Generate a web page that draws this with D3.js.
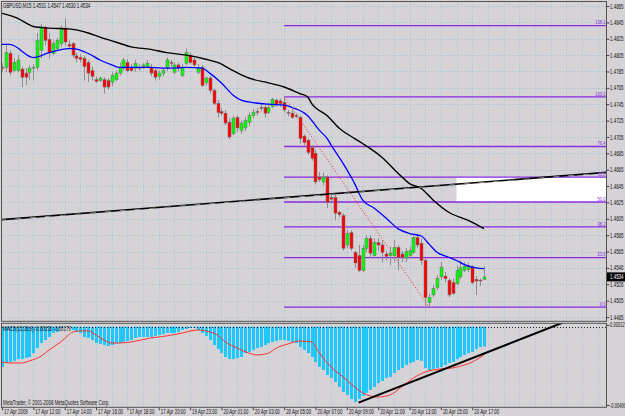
<!DOCTYPE html>
<html><head><meta charset="utf-8">
<script src="https://cdn.jsdelivr.net/npm/d3@7"></script>
<style>body{margin:0;background:#D6D3D6;}svg{display:block}</style>
</head><body><svg id="c" width="625" height="416"></svg>
<script>
// ---------- DATA ----------
const opens = [1.4790,1.4790,1.4807,1.4786,1.4786,1.4788,1.4783,1.4784,1.4789,1.4790,1.4811,1.4839,1.4824,1.4807,1.4813,1.4819,1.4838,1.4818,1.4819,1.4804,1.4802,1.4801,1.4796,1.4786,1.4775,1.4774,1.4775,1.4774,1.4772,1.4775,1.4783,1.4789,1.4796,1.4790,1.4789,1.4790,1.4791,1.4791,1.4790,1.4786,1.4779,1.4783,1.4790,1.4796,1.4784,1.4793,1.4780,1.4795,1.4805,1.4799,1.4784,1.4790,1.4771,1.4777,1.4762,1.4746,1.4736,1.4734,1.4723,1.4709,1.4729,1.4713,1.4716,1.4723,1.4731,1.4736,1.4741,1.4741,1.4735,1.4742,1.4750,1.4749,1.4747,1.4735,1.4734,1.4731,1.4729,1.4706,1.4701,1.4692,1.4685,1.4656,1.4650,1.4656,1.4631,1.4631,1.4613,1.4609,1.4573,1.4588,1.4564,1.4560,1.4542,1.4569,1.4581,1.4560,1.4576,1.4573,1.4562,1.4560,1.4560,1.4570,1.4562,1.4557,1.4560,1.4564,1.4582,1.4575,1.4554,1.4503,1.4512,1.4521,1.4534,1.4535,1.4530,1.4527,1.4526,1.4534,1.4542,1.4543,1.4546,1.4531,1.4530,1.4531];
const highs = [1.4795,1.4817,1.4811,1.4801,1.4805,1.4791,1.4789,1.4793,1.4794,1.4832,1.4843,1.4841,1.4832,1.4823,1.4826,1.4841,1.4850,1.4823,1.4821,1.4808,1.4806,1.4804,1.4799,1.4791,1.4779,1.4779,1.4778,1.4777,1.4784,1.4786,1.4796,1.4802,1.4800,1.4794,1.4799,1.4794,1.4795,1.4799,1.4794,1.4789,1.4786,1.4789,1.4802,1.4799,1.4796,1.4796,1.4794,1.4813,1.4808,1.4802,1.4794,1.4793,1.4779,1.4779,1.4764,1.4750,1.4740,1.4738,1.4728,1.4731,1.4731,1.4725,1.4729,1.4735,1.4739,1.4740,1.4745,1.4745,1.4746,1.4753,1.4752,1.4752,1.4754,1.4738,1.4738,1.4734,1.4731,1.4708,1.4703,1.4695,1.4689,1.4662,1.4661,1.4658,1.4634,1.4634,1.4615,1.4612,1.4591,1.4591,1.4566,1.4573,1.4573,1.4585,1.4585,1.4581,1.4581,1.4579,1.4566,1.4571,1.4579,1.4573,1.4566,1.4569,1.4571,1.4586,1.4586,1.4581,1.4557,1.4513,1.4524,1.4536,1.4552,1.4540,1.4532,1.4532,1.4548,1.4554,1.4552,1.4551,1.4548,1.4535,1.4532,1.4547];
const lows = [1.4784,1.4784,1.4780,1.4784,1.4784,1.4766,1.4768,1.4774,1.4774,1.4786,1.4801,1.4817,1.4801,1.4805,1.4811,1.4815,1.4817,1.4813,1.4802,1.4796,1.4796,1.4774,1.4772,1.4774,1.4771,1.4772,1.4758,1.4763,1.4767,1.4773,1.4780,1.4786,1.4784,1.4784,1.4785,1.4786,1.4788,1.4789,1.4779,1.4774,1.4775,1.4779,1.4786,1.4791,1.4782,1.4785,1.4778,1.4793,1.4794,1.4790,1.4782,1.4766,1.4768,1.4758,1.4744,1.4729,1.4731,1.4719,1.4702,1.4707,1.4711,1.4709,1.4712,1.4718,1.4728,1.4731,1.4736,1.4729,1.4733,1.4740,1.4742,1.4742,1.4735,1.4730,1.4727,1.4728,1.4697,1.4695,1.4683,1.4676,1.4647,1.4650,1.4646,1.4618,1.4624,1.4603,1.4607,1.4566,1.4569,1.4566,1.4545,1.4540,1.4540,1.4564,1.4557,1.4557,1.4566,1.4552,1.4554,1.4548,1.4552,1.4542,1.4552,1.4552,1.4557,1.4562,1.4569,1.4548,1.4498,1.4497,1.4509,1.4518,1.4530,1.4527,1.4509,1.4512,1.4524,1.4531,1.4540,1.4540,1.4525,1.4512,1.4523,1.4530];
const closes = [1.4789,1.4808,1.4784,1.4796,1.4799,1.4778,1.4778,1.4789,1.4790,1.4823,1.4839,1.4823,1.4808,1.4819,1.4823,1.4838,1.4821,1.4816,1.4805,1.4801,1.4800,1.4791,1.4783,1.4779,1.4773,1.4777,1.4766,1.4766,1.4780,1.4783,1.4790,1.4799,1.4786,1.4786,1.4795,1.4789,1.4793,1.4795,1.4783,1.4778,1.4783,1.4786,1.4799,1.4795,1.4793,1.4789,1.4790,1.4808,1.4796,1.4793,1.4790,1.4768,1.4777,1.4762,1.4746,1.4735,1.4734,1.4722,1.4705,1.4728,1.4716,1.4722,1.4725,1.4731,1.4735,1.4735,1.4740,1.4734,1.4741,1.4751,1.4745,1.4746,1.4738,1.4734,1.4729,1.4730,1.4703,1.4698,1.4686,1.4679,1.4650,1.4653,1.4656,1.4625,1.4629,1.4612,1.4610,1.4569,1.4587,1.4569,1.4551,1.4542,1.4569,1.4581,1.4563,1.4576,1.4573,1.4564,1.4559,1.4563,1.4570,1.4558,1.4558,1.4565,1.4566,1.4582,1.4573,1.4554,1.4509,1.4509,1.4520,1.4532,1.4546,1.4532,1.4512,1.4514,1.4542,1.4545,1.4547,1.4547,1.4527,1.4529,1.4529,1.4534];

// moving averages (bar index, price)
const maFastBars = [0,2,8,12,17,18,22,25,28,30,38,42,47,51,53,56,59,61,64,68,72,74,78,81,83,84,87,90,92,95,98,101,104,107,109,111,114,116,118,121,123];
const maFastVals = [1.4818,1.4818,1.4802,1.4808,1.4813,1.4813,1.4807,1.4799,1.4793,1.4790,1.4790,1.4789,1.4790,1.4789,1.4783,1.4771,1.4756,1.4750,1.4747,1.4745,1.4744,1.4741,1.4731,1.4713,1.4703,1.4695,1.4673,1.4648,1.4628,1.4618,1.4606,1.4593,1.4587,1.4584,1.4574,1.4564,1.4558,1.4554,1.4549,1.4545,1.4544];
const maSlowBars = [0,4,8,12,17,22,25,29,33,38,42,47,52,55,59,63,68,72,76,78,79,83,86,90,92,97,101,104,107,110,114,119,123];
const maSlowVals = [1.4856,1.4850,1.4840,1.4838,1.4837,1.4832,1.4827,1.4821,1.4815,1.4812,1.4808,1.4805,1.4800,1.4796,1.4786,1.4777,1.4771,1.4766,1.4758,1.4754,1.4746,1.4731,1.4716,1.4703,1.4697,1.4680,1.4661,1.4648,1.4642,1.4628,1.4613,1.4603,1.4593];

// MACD(12,26,9)
const macdHist = [-0.00257,-0.00231,-0.00225,-0.00218,-0.00206,-0.00206,-0.00199,-0.00193,-0.00168,-0.00136,-0.00104,-0.00085,-0.00066,-0.00040,-0.00034,-0.00008,-0.00002,-0.00002,-0.00021,-0.00034,-0.00040,-0.00066,-0.00072,-0.00085,-0.00104,-0.00110,-0.00117,-0.00123,-0.00117,-0.00104,-0.00104,-0.00097,-0.00091,-0.00085,-0.00072,-0.00066,-0.00066,-0.00066,-0.00066,-0.00059,-0.00053,-0.00047,-0.00040,-0.00040,-0.00040,-0.00034,-0.00021,-0.00015,-0.00008,-0.00008,-0.00021,-0.00040,-0.00059,-0.00085,-0.00117,-0.00142,-0.00168,-0.00193,-0.00206,-0.00206,-0.00199,-0.00193,-0.00168,-0.00161,-0.00148,-0.00136,-0.00129,-0.00117,-0.00104,-0.00097,-0.00091,-0.00085,-0.00085,-0.00091,-0.00097,-0.00104,-0.00129,-0.00148,-0.00168,-0.00193,-0.00225,-0.00257,-0.00276,-0.00308,-0.00327,-0.00352,-0.00384,-0.00416,-0.00435,-0.00461,-0.00480,-0.00461,-0.00441,-0.00422,-0.00403,-0.00384,-0.00359,-0.00346,-0.00327,-0.00320,-0.00295,-0.00276,-0.00263,-0.00244,-0.00231,-0.00225,-0.00212,-0.00218,-0.00263,-0.00276,-0.00269,-0.00263,-0.00257,-0.00244,-0.00231,-0.00225,-0.00206,-0.00193,-0.00180,-0.00168,-0.00161,-0.00142,-0.00129,-0.00126];
const signalBars = [0,2,5,7,10,12,15,17,18,20,22,24,26,28,30,33,38,42,46,50,52,55,57,60,63,65,68,70,73,76,79,81,84,87,90,92,94,96,99,102,105,108,112,115,118,120,123];
const signalVals = [-0.00225,-0.00231,-0.00231,-0.00218,-0.00187,-0.00148,-0.00097,-0.00053,-0.00034,-0.00027,-0.00027,-0.00053,-0.00085,-0.00104,-0.00104,-0.00097,-0.00072,-0.00059,-0.00040,-0.00021,-0.00027,-0.00053,-0.00097,-0.00136,-0.00168,-0.00180,-0.00168,-0.00136,-0.00110,-0.00091,-0.00097,-0.00168,-0.00257,-0.00320,-0.00384,-0.00422,-0.00441,-0.00448,-0.00435,-0.00384,-0.00327,-0.00289,-0.00269,-0.00263,-0.00244,-0.00225,-0.00179];

// drawn objects
const fibRatios = [0, 23.6, 38.2, 50.0, 61.8, 76.4, 100.0, 133.9];
const fibLabels = ["0.0","23.6","38.2","50.0","61.8","76.4","100.0","138.2"];
const fibHighBar = 72, fibHigh = 1.4754, fibLowBar = 109, fibLow = 1.4497;
const zoneBars = [116, 155], zonePrices = [1.4656, 1.46255];
const trendBars = [0, 123], trendPrices = [1.4604, 1.4650];
const macdTrendBars = [91, 143], macdTrendVals = [-0.00484, 0.00025];

// axis labels
const priceTicks = [1.4865,1.4845,1.4825,1.4805,1.4785,1.4765,1.4745,1.4725,1.4705,1.4685,1.4665,1.4645,1.4625,1.4605,1.4585,1.4565,1.4545,1.4525,1.4505,1.4485];
const priceTickLabels = ["1.4865","1.4845","1.4825","1.4805","1.4785","1.4765","1.4745","1.4725","1.4705","1.4685","1.4665","1.4645","1.4625","1.4605","1.4585","1.4565","1.4546","1.4526","1.4505","1.4485"];
const timeTickBars = [0,8,16,24,32,40,48,56,64,72,80,88,96,104,112,120];
const timeTickLabels = ["17 Apr 2009","17 Apr 12:00","17 Apr 14:00","17 Apr 16:00","17 Apr 18:00","17 Apr 20:00","19 Apr 23:00","20 Apr 01:00","20 Apr 03:00","20 Apr 05:00","20 Apr 07:00","20 Apr 09:00","20 Apr 11:00","20 Apr 13:00","20 Apr 15:00","20 Apr 17:00"];
const macdTicks = [0.00012, -0.00499];
const macdTickLabels = ["0.00012", "-0.00499"];
const headerText = "GBPUSD,M15  1.4531 1.4547 1.4530 1.4534";
const macdText = "MACD(12,26,9) -0.00126 -0.00179";
const copyText = "MetaTrader, \u00A9 2001-2008 MetaQuotes Software Corp.";

// ---------- DRAW ----------
const BG = "#D6D3D6", GRID = "#9ec2dc", FIB = "#8a2be2";
const FONT = "'Liberation Sans', Arial, sans-serif";
const SX = 0.68;           // horizontal squeeze of all texts (picture is condensed)
const FS = 6.5;
const L = 2, R = 606.5, mainTop = 1.5, mainBot = 321.3, subTop = 323.3, subBot = 407.3;
const svg = d3.select("#c");
svg.append("rect").attr("width",625).attr("height",416).attr("fill",BG);

const x = d3.scaleLinear().domain([0,123]).range([2,484]);
const y = d3.scaleLinear().domain([1.4485,1.4865]).range([317,6]);
const ym = d3.scaleLinear().domain([-0.00499,0]).range([405,326.7]);

function label(parent, tx, ty, str, opts={}) {
  return parent.append("text")
    .attr("transform",`translate(${tx},${ty}) scale(${SX},1)`)
    .attr("font-family",FONT).attr("font-size",opts.size||FS)
    .attr("fill",opts.fill||"#111").attr("text-anchor",opts.anchor||"start").text(str);
}

const defs = svg.append("defs");
defs.append("clipPath").attr("id","cm").append("rect").attr("x",L).attr("y",mainTop).attr("width",R-L).attr("height",mainBot-mainTop);
defs.append("clipPath").attr("id","cs").append("rect").attr("x",L).attr("y",subTop).attr("width",R-L).attr("height",subBot-subTop);

const gm = svg.append("g").attr("clip-path","url(#cm)");
const gs = svg.append("g").attr("clip-path","url(#cs)");

// grid
const gridBars = d3.range(4, 160, 4).filter(b => x(b) < R);
gm.selectAll(".vg").data(gridBars).join("line")
  .attr("x1",b=>Math.round(x(b))+0.5).attr("x2",b=>Math.round(x(b))+0.5).attr("y1",mainTop).attr("y2",mainBot)
  .attr("stroke",GRID).attr("stroke-dasharray","1,2");
gm.selectAll(".hg").data(priceTicks).join("line")
  .attr("x1",L).attr("x2",R).attr("y1",d=>Math.round(y(d))+0.5).attr("y2",d=>Math.round(y(d))+0.5)
  .attr("stroke",GRID).attr("stroke-dasharray","1,2");
gs.selectAll(".vg").data(gridBars).join("line")
  .attr("x1",b=>Math.round(x(b))+0.5).attr("x2",b=>Math.round(x(b))+0.5).attr("y1",subTop).attr("y2",subBot)
  .attr("stroke",GRID).attr("stroke-dasharray","1,2");

// zone rectangle
gm.append("rect").attr("x",x(zoneBars[0])).attr("y",y(zonePrices[0]))
  .attr("width",x(zoneBars[1])-x(zoneBars[0])).attr("height",y(zonePrices[1])-y(zonePrices[0])).attr("fill","#ffffff");

// fibonacci
const fibRange = fibHigh - fibLow;
fibRatios.forEach((r,i) => {
  const p = fibLow + fibRange*r/100;
  gm.append("line").attr("x1",x(fibHighBar)).attr("x2",R).attr("y1",y(p)).attr("y2",y(p))
    .attr("stroke",FIB).attr("stroke-width",1.3);
  label(svg, R-1, y(p)-1.3, fibLabels[i], {anchor:"end", fill:FIB, size:6});
});
gm.append("line").attr("x1",x(fibHighBar)).attr("y1",y(fibHigh)).attr("x2",x(fibLowBar)).attr("y2",y(fibLow))
  .attr("stroke","#ff2020").attr("stroke-width",1).attr("stroke-dasharray","1,2");

// candles
const bars = d3.range(opens.length).map(i => ({i,o:opens[i],h:highs[i],l:lows[i],c:closes[i]}));
const cg = gm.append("g");
cg.selectAll(".w").data(bars).join("line")
  .attr("x1",d=>Math.round(x(d.i))+0.5).attr("x2",d=>Math.round(x(d.i))+0.5)
  .attr("y1",d=>y(d.h)).attr("y2",d=>y(d.l)).attr("stroke","#8c8c8c").attr("stroke-width",1);
cg.selectAll(".b").data(bars.filter(d=>Math.abs(d.o-d.c)>=0.00006)).join("rect")
  .attr("x",d=>Math.round(x(d.i))-1).attr("width",3)
  .attr("y",d=>y(Math.max(d.o,d.c))).attr("height",d=>Math.abs(y(d.o)-y(d.c)))
  .attr("fill",d=>d.c>d.o?"#00ff00":"#ff0000").attr("stroke","#6e6e6e").attr("stroke-width",0.5);
cg.selectAll(".d").data(bars.filter(d=>Math.abs(d.o-d.c)<0.00006)).join("line")
  .attr("x1",d=>Math.round(x(d.i))-1).attr("x2",d=>Math.round(x(d.i))+2)
  .attr("y1",d=>y(d.c)).attr("y2",d=>y(d.c)).attr("stroke","#555").attr("stroke-width",1);

// moving averages
const lineP = d3.line().x(d=>x(d[0])).y(d=>y(d[1])).curve(d3.curveMonotoneX);
gm.append("path").attr("d",lineP(maSlowBars.map((b,i)=>[b,maSlowVals[i]]))).attr("fill","none").attr("stroke","#000").attr("stroke-width",1.4);
gm.append("path").attr("d",lineP(maFastBars.map((b,i)=>[b,maFastVals[i]]))).attr("fill","none").attr("stroke","#0000ff").attr("stroke-width",1.3);

// trend line (extended both ways)
const slope = (trendPrices[1]-trendPrices[0])/(trendBars[1]-trendBars[0]);
const bL = x.invert(0), bR = x.invert(R);
const tp = b => trendPrices[0] + slope*(b-trendBars[0]);
gm.append("line").attr("x1",0).attr("y1",y(tp(bL))).attr("x2",R).attr("y2",y(tp(bR)))
  .attr("stroke","#000").attr("stroke-width",1.6);
gm.append("line").attr("x1",0).attr("y1",y(tp(bL))+0.4).attr("x2",R).attr("y2",y(tp(bR))+0.4)
  .attr("stroke","#8a8a8a").attr("stroke-width",1).attr("stroke-dasharray","6,9");

// MACD
gs.selectAll(".h").data(macdHist).join("rect")
  .attr("x",(d,i)=>Math.round(x(i))-1).attr("width",3)
  .attr("y",ym(0)).attr("height",d=>ym(d)-ym(0)).attr("fill","#1ec8ff");
gs.append("path").attr("d",d3.line().x(d=>x(d[0])).y(d=>ym(d[1])).curve(d3.curveMonotoneX)(signalBars.map((b,i)=>[b,signalVals[i]])))
  .attr("fill","none").attr("stroke","#ff3030").attr("stroke-width",1);
gs.append("line").attr("x1",L).attr("x2",R).attr("y1",Math.round(ym(0))+0.5).attr("y2",Math.round(ym(0))+0.5)
  .attr("stroke","#222").attr("stroke-dasharray","1,2");
gs.append("line").attr("x1",x(macdTrendBars[0])).attr("y1",ym(macdTrendVals[0])).attr("x2",x(macdTrendBars[1])).attr("y2",ym(macdTrendVals[1]))
  .attr("stroke","#000").attr("stroke-width",2);

// frames
const fr = svg.append("g").attr("stroke","#555").attr("fill","none");
fr.append("rect").attr("x",1.5).attr("y",mainTop).attr("width",R-1.5).attr("height",mainBot-mainTop);
fr.append("rect").attr("x",1.5).attr("y",subTop).attr("width",R-1.5).attr("height",subBot-subTop);

// price axis
const ax = svg.append("g").attr("transform",`translate(${R},0)`)
  .call(d3.axisRight(y).tickValues(priceTicks).tickFormat((d,i)=>priceTickLabels[i]).tickSize(3).tickSizeOuter(0));
ax.select(".domain").remove();
ax.selectAll("line").attr("stroke","#444");
ax.selectAll("text").attr("font-family",FONT).attr("font-size",FS).attr("fill","#111")
  .attr("x",0).attr("transform",`translate(3.5,0) scale(${SX},1)`);

// macd axis
const axm = svg.append("g").attr("transform",`translate(${R},0)`)
  .call(d3.axisRight(ym).tickValues(macdTicks).tickFormat((d,i)=>macdTickLabels[i]).tickSize(3).tickSizeOuter(0));
axm.select(".domain").remove();
axm.selectAll("line").attr("stroke","#444");
axm.selectAll("text").attr("font-family",FONT).attr("font-size",FS).attr("fill","#111")
  .attr("x",0).attr("transform",`translate(3.5,0) scale(${SX-0.05},1)`);

// current price box
const cp = closes[closes.length-1];
svg.append("rect").attr("x",R+0.5).attr("y",y(cp)-4.5).attr("width",625-R).attr("height",9).attr("fill","#000");
label(svg, R+3.5, y(cp)+2.3, cp.toFixed(4), {fill:"#fff"});

// time axis
const axb = svg.append("g").attr("transform",`translate(0,${subBot})`)
  .call(d3.axisBottom(x).tickValues(timeTickBars).tickFormat((d,i)=>timeTickLabels[i]).tickSize(3).tickSizeOuter(0));
axb.select(".domain").remove();
axb.selectAll("line").attr("stroke","#444");
axb.selectAll("text").attr("font-family",FONT).attr("font-size",FS).attr("fill","#111")
  .attr("text-anchor","start").attr("y",0).attr("dy","0.71em")
  .attr("transform",`translate(1.5,2.5) scale(${SX},1)`);

// texts
label(svg, 3, 8, headerText);
label(svg, 3, 331, macdText);
label(svg, 3, 405, copyText);
</script></body></html>
